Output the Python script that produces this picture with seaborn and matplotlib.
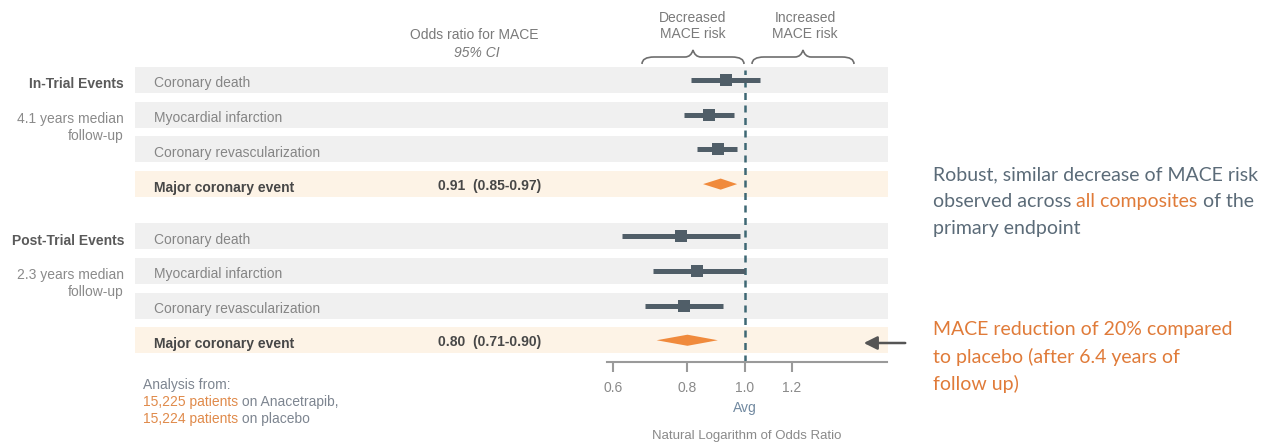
import numpy as np
import pandas as pd
import matplotlib
matplotlib.use("Agg")
import matplotlib.pyplot as plt
import seaborn as sns
from matplotlib.path import Path
from matplotlib.patches import PathPatch
import matplotlib.transforms as mtransforms

# ---------------- data ----------------
group_titles = ["In-Trial Events", "Post-Trial Events"]
group_notes = ["4.1 years median\nfollow-up", "2.3 years median\nfollow-up"]
row_labels = ["Coronary death", "Myocardial infarction", "Coronary revascularization", "Major coronary event"]
in_trial_est = [0.93, 0.87, 0.90, 0.91]
in_trial_lo = [0.81, 0.79, 0.83, 0.85]
in_trial_hi = [1.06, 0.96, 0.97, 0.97]
post_trial_est = [0.78, 0.83, 0.79, 0.80]
post_trial_lo = [0.62, 0.70, 0.68, 0.71]
post_trial_hi = [0.98, 1.00, 0.92, 0.90]
summary_text = ["0.91  (0.85-0.97)", "0.80  (0.71-0.90)"]
tick_values = [0.6, 0.8, 1.0, 1.2]
tick_labels = ["0.6", "0.8", "1.0", "1.2"]

# ---------------- setup ----------------
sns.set_theme(style="white")
plt.rcParams["font.family"] = ["Liberation Sans", "DejaVu Sans"]

W, H = 1274, 445
fig = plt.figure(figsize=(W / 100, H / 100), dpi=100)
fig.patch.set_facecolor("white")

def fx(x):
    return x / W

def fy(y):
    return 1 - y / H

# axes spans the band area (pixels 135..888 horizontally, 67..362 vertically)
ax_l, ax_r, ax_t, ax_b = 135, 888, 67, 362
ax = fig.add_axes([fx(ax_l), fy(ax_b), (ax_r - ax_l) / W, (ax_b - ax_t) / H])
ax.set_facecolor("none")

row_px = 34.7
first_center = 80
ax.set_xscale("log")
px_per_ln = 258.0
one_px = 745
ax.set_xlim(np.exp((ax_l - one_px) / px_per_ln), np.exp((ax_r - one_px) / px_per_ln))
ax.set_ylim((ax_b - first_center) / row_px, (ax_t - first_center) / row_px)

# build table
records = []
for g, (est, lo, hi) in enumerate([(in_trial_est, in_trial_lo, in_trial_hi),
                                    (post_trial_est, post_trial_lo, post_trial_hi)]):
    for i, lab in enumerate(row_labels):
        records.append(dict(group=g, label=lab, est=est[i], lo=lo[i], hi=hi[i],
                            pos=i + 4.5 * g, summary=(i == 3)))
df = pd.DataFrame(records)

gray_band = "#f0f0f0"
orange_band = "#fdf3e6"
dark = "#505e68"
orange = "#f08a3c"
half = 0.375

for _, r in df.iterrows():
    ax.axhspan(r.pos - half, r.pos + half, color=orange_band if r.summary else gray_band,
               lw=0, zorder=0)

det = df[~df.summary]
ax.hlines(det.pos, det.lo, det.hi, color=dark, lw=3.6, zorder=3)
sns.scatterplot(data=det, x="est", y="pos", marker="s", s=85, color=dark,
                edgecolor=dark, linewidth=0, ax=ax, zorder=4, legend=False)

summ = df[df.summary]
dh = 0.16
for _, r in summ.iterrows():
    ax.fill([r.lo, r.est, r.hi, r.est], [r.pos, r.pos - dh, r.pos, r.pos + dh],
            color=orange, lw=0, zorder=4)

# reference dashed line at 1.0
ax.plot([1.0, 1.0], [(ax_b - first_center) / row_px, (70 - first_center) / row_px],
        color="#3e6874", lw=1.8, ls=(0, (2.8, 2.2)), zorder=2, clip_on=False)

# axis styling
for s in ["top", "right", "left"]:
    ax.spines[s].set_visible(False)
ax.spines["bottom"].set_color("#9a9a9a")
ax.spines["bottom"].set_linewidth(1.5)
ax.spines["bottom"].set_bounds(np.exp((607 - one_px) / px_per_ln), np.exp((887 - one_px) / px_per_ln))
ax.set_xticks(tick_values)
ax.set_xticklabels(tick_labels)
ax.xaxis.set_minor_locator(matplotlib.ticker.NullLocator())
ax.tick_params(axis="x", bottom=True, direction="out", length=7, width=1.5, color="#9a9a9a",
               labelcolor="#8a8a8a", labelsize=10, pad=6.5)
ax.set_yticks([])
ax.set_xlabel("")
ax.set_ylabel("")

# Avg and axis title
trans = mtransforms.blended_transform_factory(ax.transData, fig.transFigure)
ax.text(1.0, fy(408), "Avg", transform=trans, ha="center", va="center", color="#7189a0", fontsize=10)
fig.text(fx(747), fy(436), "Natural Logarithm of Odds Ratio", ha="center", va="center",
         color="#8a8a8a", fontsize=9.5)

# row labels
for _, r in df.iterrows():
    ypx = first_center + r.pos * row_px + 3.5
    if r.summary:
        fig.text(fx(154), fy(ypx), r.label, ha="left", va="center", fontsize=10,
                 fontweight="bold", color="#474747")
    else:
        fig.text(fx(154), fy(ypx), r.label, ha="left", va="center", fontsize=10, color="#858585")

for g in range(2):
    base = first_center + 4.5 * g * row_px
    fig.text(fx(124), fy(base + 4.5), group_titles[g], ha="right", va="center", fontsize=10,
             fontweight="bold", color="#5a5a5a")
    fig.text(fx(124), fy(base + 32), group_notes[g], ha="right", va="top", fontsize=10,
             color="#8a8a8a", linespacing=1.25)
    ypx = first_center + (3 + 4.5 * g) * row_px + 2
    fig.text(fx(438), fy(ypx), summary_text[g], ha="left", va="center", fontsize=10,
             fontweight="bold", color="#474747")

# header
fig.text(fx(474), fy(35), "Odds ratio for MACE", ha="center", va="center", fontsize=10, color="#7a7a7a")
fig.text(fx(477), fy(53), "95% CI", ha="center", va="center", fontsize=10, style="italic", color="#7a7a7a")
fig.text(fx(693), fy(26), "Decreased\nMACE risk", ha="center", va="center", fontsize=10,
         color="#7a7a7a", linespacing=1.2)
fig.text(fx(805), fy(26), "Increased\nMACE risk", ha="center", va="center", fontsize=10,
         color="#7a7a7a", linespacing=1.2)

def brace(x0, x1, ytop=50, ymid=57, ybot=64):
    xm = (x0 + x1) / 2
    pts = [(x0, ybot), (x0, ymid), (x0 + 12, ymid), (x0 + 12, ymid),
           (xm - 8, ymid), (xm - 2, ymid), (xm, ytop),
           (xm + 2, ymid), (xm + 8, ymid), (xm + 8, ymid),
           (x1 - 12, ymid), (x1, ymid), (x1, ybot)]
    codes = [Path.MOVETO, Path.CURVE3, Path.CURVE3, Path.LINETO,
             Path.LINETO, Path.CURVE3, Path.CURVE3,
             Path.CURVE3, Path.CURVE3, Path.LINETO,
             Path.LINETO, Path.CURVE3, Path.CURVE3]
    verts = [(fx(x), fy(y)) for x, y in pts]
    fig.patches.append(PathPatch(Path(verts, codes), transform=fig.transFigure, fill=False,
                                 edgecolor="#6e6e6e", lw=1.2))

brace(642, 744)
brace(752, 854)

# right-side annotations
slate = "#5b6b78"
txt_orange = "#e07b39"
rfont = dict(fontsize=14, family=["Lato", "DejaVu Sans"])

def chain_annot(x, y, pieces, **kw):
    prev = fig.text(fx(x), fy(y), pieces[0][0], color=pieces[0][1], ha="left", va="center", **kw)
    for s, c in pieces[1:]:
        prev = fig.add_artist(matplotlib.text.Annotation(s, xy=(1, 0), xycoords=prev, ha="left",
                                                         va="bottom", color=c, **kw))
    return prev

chain_annot(933, 175, [("Robust, similar decrease of MACE risk", slate)], **rfont)
chain_annot(933, 202, [("observed across ", slate), ("all composites", txt_orange), (" of the", slate)], **rfont)
chain_annot(933, 229, [("primary endpoint", slate)], **rfont)
chain_annot(933, 330, [("MACE reduction of 20% compared", txt_orange)], **rfont)
chain_annot(933, 357, [("to placebo (after 6.4 years of", txt_orange)], **rfont)
chain_annot(933, 384, [("follow up)", txt_orange)], **rfont)

fig.add_artist(matplotlib.patches.FancyArrowPatch((fx(908), fy(343)), (fx(861), fy(343)),
                                                  transform=fig.transFigure, arrowstyle="-|>",
                                                  mutation_scale=20, color="#555555", lw=1.8))

# bottom-left note
sfont = dict(fontsize=10)
chain_annot(143, 385, [("Analysis from:", "#7d8590")], **sfont)
chain_annot(143, 402, [("15,225 patients", "#e08a4a"), (" on Anacetrapib,", "#7d8590")], **sfont)
chain_annot(143, 419, [("15,224 patients", "#e08a4a"), (" on placebo", "#7d8590")], **sfont)

fig.savefig("out.png", dpi=100, facecolor="white")
